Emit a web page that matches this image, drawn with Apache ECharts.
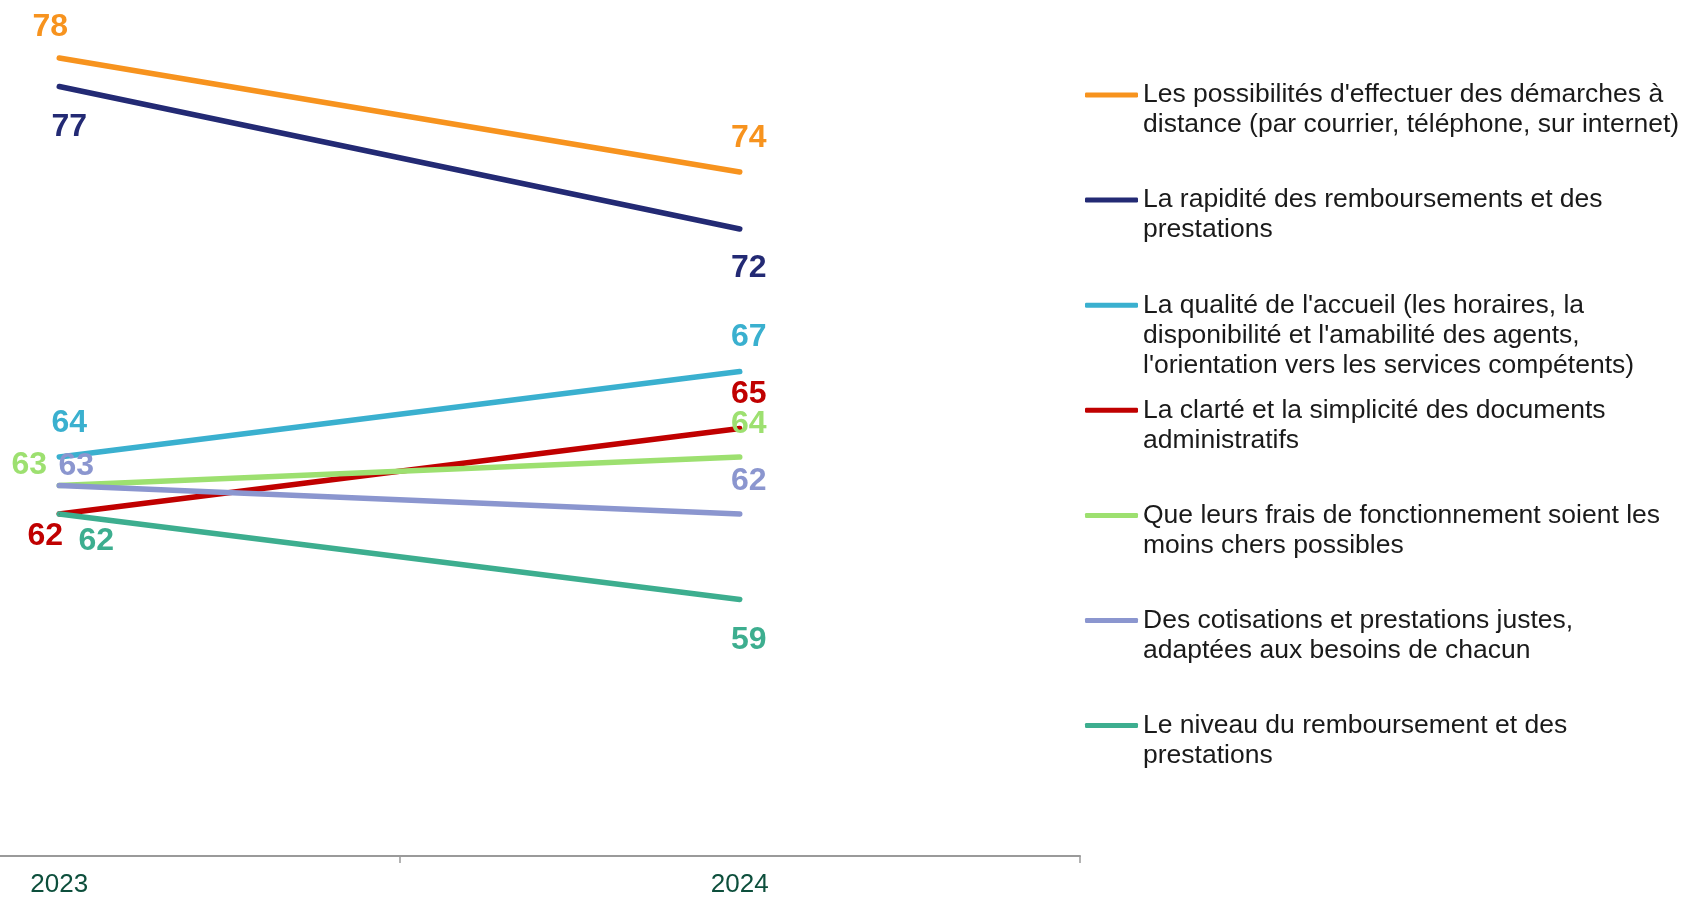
<!DOCTYPE html>
<html>
<head>
<meta charset="utf-8">
<script src="https://cdn.jsdelivr.net/npm/echarts@6/dist/echarts.min.js"></script>
<style>
html,body{margin:0;padding:0;background:#fff;}
#chart{width:1684px;height:900px;}
</style>
</head>
<body>
<div id="chart"></div>
<script>
const years = ['2023', '2024'];
const seriesNames = [
  "Les possibilités d'effectuer des démarches à\ndistance (par courrier, téléphone, sur internet)",
  "La rapidité des remboursements et des\nprestations",
  "La qualité de l'accueil (les horaires, la\ndisponibilité et l'amabilité des agents,\nl'orientation vers les services compétents)",
  "La clarté et la simplicité des documents\nadministratifs",
  "Que leurs frais de fonctionnement soient les\nmoins chers possibles",
  "Des cotisations et prestations justes,\nadaptées aux besoins de chacun",
  "Le niveau du remboursement et des\nprestations"
];
const distance = [78, 74];
const rapidite = [77, 72];
const accueil = [64, 67];
const clarte = [62, 65];
const frais = [63, 64];
const cotisations = [63, 62];
const niveau = [62, 59];
const seriesValues = [distance, rapidite, accueil, clarte, frais, cotisations, niveau];

const colors = ['#F7931E', '#232A74', '#3AB0CF', '#C00000', '#9DE070', '#8B96CF', '#3DAE8F'];
// label offsets [dx, dy] for 2023 and 2024 points
const labelOffsets = [
  [[-9, -31], [9, -34]],
  [[10, 41], [9, 39]],
  [[10, -34], [9, -34]],
  [[-14, 22], [9, -34]],
  [[-30, -20], [9, -33]],
  [[17, -19], [9, -33]],
  [[37, 27], [9, 41]]
];

const L = 30;
const legends = seriesNames.map((name, i) => {
  const n = name.split('\n').length;
  const yc = 95 + i * 105.1;
  return {
    data: [name],
    left: 1085,
    top: yc - (2 * n - 1) * L / 2,
    padding: 0,
    icon: 'roundRect',
    itemWidth: 53,
    itemHeight: 5,
    selectedMode: false,
    formatter: (nm) => '\n'.repeat(nm.split('\n').length - 1) + nm,
    textStyle: {
      fontFamily: 'Liberation Sans, Arial, sans-serif',
      fontSize: 26.5,
      lineHeight: L,
      color: '#1a1a1a'
    }
  };
});

const series = seriesNames.map((name, i) => ({
  name: name,
  type: 'line',
  data: seriesValues[i].map((v, j) => ({
    value: v,
    label: { offset: labelOffsets[i][j] }
  })),
  symbol: 'circle',
  symbolSize: 1,
  showSymbol: true,
  color: colors[i],
  lineStyle: { width: 5.5, color: colors[i], cap: 'round' },
  itemStyle: { color: colors[i] },
  emphasis: { disabled: true },
  label: {
    show: true,
    position: 'inside',
    color: colors[i],
    fontFamily: 'Liberation Sans, Arial, sans-serif',
    fontWeight: 'bold',
    fontSize: 32
  }
}));

const chart = echarts.init(document.getElementById('chart'), null, { renderer: 'canvas' });
chart.setOption({
  animation: false,
  backgroundColor: '#ffffff',
  grid: { left: -281, right: 604, top: 1, bottom: 44, containLabel: false, outerBoundsMode: 'none' },
  legend: legends,
  xAxis: {
    type: 'category',
    data: years,
    boundaryGap: true,
    axisLine: { show: true, lineStyle: { color: '#9a9a9a', width: 2 } },
    axisTick: { show: true, length: 7, lineStyle: { color: '#9a9a9a', width: 1.5 } },
    axisLabel: {
      margin: 16,
      color: '#0D4F3C',
      fontFamily: 'Liberation Sans, Arial, sans-serif',
      fontSize: 26
    },
    splitLine: { show: false }
  },
  yAxis: {
    type: 'value',
    min: 50,
    max: 80,
    show: false,
    splitLine: { show: false }
  },
  series: series
});
</script>
</body>
</html>
